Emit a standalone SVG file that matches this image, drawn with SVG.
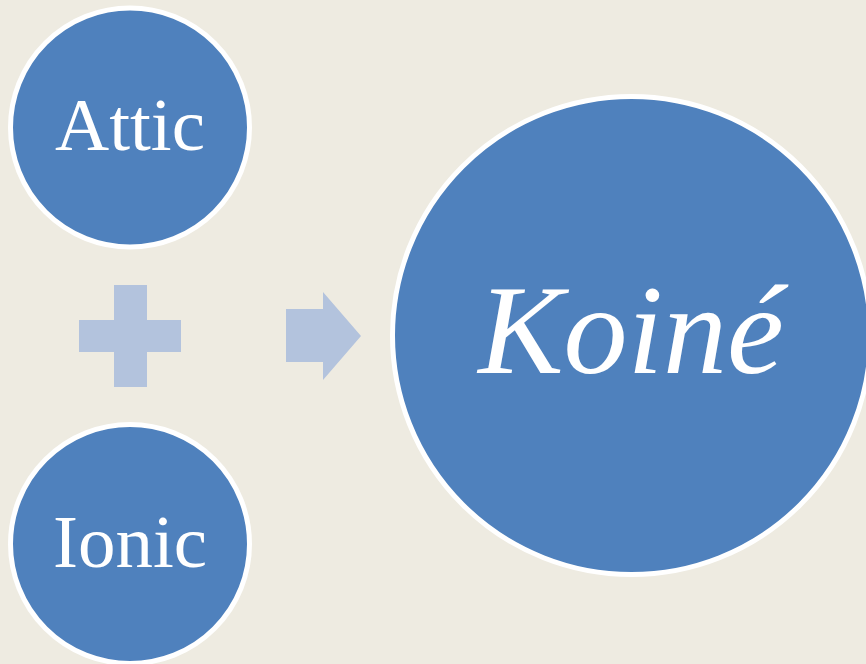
<svg xmlns="http://www.w3.org/2000/svg" width="866" height="664" viewBox="0 0 866 664">
<style>
.node{fill:#4F81BD;stroke:#FFFFFF;stroke-width:5}
.lbl{fill:#FFFFFF;font-family:"Liberation Serif","Times New Roman",serif;text-anchor:middle}
.sym{fill:#B3C3DD}
</style>
<rect width="866" height="664" fill="#EEEBE1"/>
<g id="attic">
<circle class="node" cx="130" cy="127.5" r="119.5"/>
<text class="lbl" x="130" y="150" font-size="75">Attic</text>
</g>
<g id="ionic">
<circle class="node" cx="130" cy="544" r="119.5"/>
<text class="lbl" x="130" y="567" font-size="75">Ionic</text>
</g>
<g id="koine">
<circle class="node" cx="631.5" cy="335.5" r="239"/>
<text class="lbl" x="631" y="373" font-size="128" font-style="italic">Koiné</text>
</g>
<g id="connectors">
<path class="sym" d="M114,285H147V320H181V352H147V387H114V352H79V320H114Z"/>
<path class="sym" d="M286,309H323V292L361,336L323,380V362H286Z"/>
</g>
</svg>
